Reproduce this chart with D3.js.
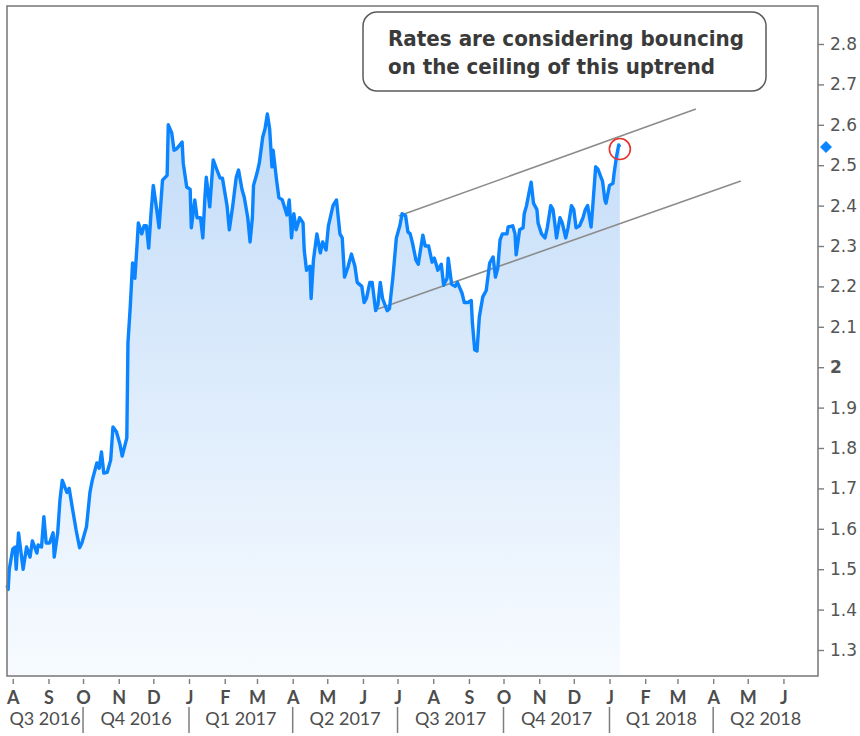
<!DOCTYPE html>
<html>
<head>
<meta charset="utf-8">
<script src="https://cdn.jsdelivr.net/npm/d3@7"></script>
<style>
  body { margin: 0; background: #fff; }
</style>
</head>
<body>
<div id="chart"></div>
<script>
// 10y yield
var dates = ["2016-07-27","2016-07-28","2016-07-29","2016-08-01","2016-08-03","2016-08-04","2016-08-06","2016-08-10","2016-08-13","2016-08-16",
  "2016-08-18","2016-08-22","2016-08-23","2016-08-26","2016-08-28","2016-08-30","2016-09-02","2016-09-05","2016-09-06","2016-09-09",
  "2016-09-11","2016-09-13","2016-09-17","2016-09-19","2016-09-22","2016-09-25","2016-09-28","2016-09-30","2016-10-04","2016-10-07",
  "2016-10-09","2016-10-13","2016-10-15","2016-10-17","2016-10-19","2016-10-22","2016-10-25","2016-10-27","2016-10-30","2016-11-02",
  "2016-11-04","2016-11-08","2016-11-09","2016-11-11","2016-11-13","2016-11-15","2016-11-17","2016-11-18","2016-11-21","2016-11-23",
  "2016-11-25","2016-11-27","2016-11-29","2016-12-01","2016-12-04","2016-12-06","2016-12-09","2016-12-13","2016-12-14","2016-12-17",
  "2016-12-19","2016-12-21","2016-12-26","2016-12-27","2016-12-30","2017-01-02","2017-01-03","2017-01-06","2017-01-08","2017-01-11",
  "2017-01-13","2017-01-15","2017-01-16","2017-01-19","2017-01-22","2017-01-25","2017-01-28","2017-01-30","2017-02-03","2017-02-05",
  "2017-02-08","2017-02-11","2017-02-13","2017-02-16","2017-02-18","2017-02-21","2017-02-23","2017-02-25","2017-02-26","2017-03-01",
  "2017-03-03","2017-03-06","2017-03-08","2017-03-10","2017-03-12","2017-03-14","2017-03-15","2017-03-18","2017-03-20","2017-03-23",
  "2017-03-27","2017-03-29","2017-03-31","2017-04-02","2017-04-04","2017-04-07","2017-04-10","2017-04-11","2017-04-13","2017-04-16",
  "2017-04-17","2017-04-19","2017-04-22","2017-04-25","2017-04-27","2017-04-30","2017-05-02","2017-05-06","2017-05-09","2017-05-12",
  "2017-05-14","2017-05-16","2017-05-19","2017-05-22","2017-05-25","2017-05-27","2017-05-31","2017-06-02","2017-06-04","2017-06-07",
  "2017-06-09","2017-06-12","2017-06-14","2017-06-16","2017-06-18","2017-06-22","2017-06-24","2017-06-27","2017-06-30","2017-07-03",
  "2017-07-05","2017-07-08","2017-07-10","2017-07-12","2017-07-14","2017-07-17","2017-07-19","2017-07-23","2017-07-25","2017-07-28",
  "2017-07-31","2017-08-02","2017-08-05","2017-08-08","2017-08-10","2017-08-13","2017-08-14","2017-08-17","2017-08-20","2017-08-22",
  "2017-08-26","2017-08-28","2017-08-31","2017-09-03","2017-09-04","2017-09-06","2017-09-08","2017-09-10","2017-09-13","2017-09-16",
  "2017-09-19","2017-09-22","2017-09-24","2017-09-26","2017-09-28","2017-09-30","2017-10-04","2017-10-05","2017-10-09","2017-10-11",
  "2017-10-12","2017-10-15","2017-10-18","2017-10-19","2017-10-21","2017-10-23","2017-10-25","2017-10-27","2017-10-30","2017-10-31",
  "2017-11-03","2017-11-06","2017-11-08","2017-11-11","2017-11-13","2017-11-15","2017-11-16","2017-11-19","2017-11-21","2017-11-24",
  "2017-11-26","2017-11-29","2017-12-01","2017-12-03","2017-12-06","2017-12-09","2017-12-11","2017-12-13","2017-12-16","2017-12-17",
  "2017-12-20","2017-12-22","2017-12-24","2017-12-26","2017-12-28","2017-12-29","2018-01-01","2018-01-04","2018-01-05","2018-01-07",
  "2018-01-09","2018-01-10"];
var yields = [1.46,1.45,1.50,1.55,1.555,1.50,1.59,1.50,1.555,1.53,
  1.57,1.54,1.56,1.555,1.63,1.565,1.565,1.59,1.53,1.59,
  1.672,1.72,1.69,1.70,1.647,1.597,1.553,1.565,1.605,1.69,
  1.72,1.763,1.75,1.79,1.738,1.74,1.77,1.852,1.84,1.81,
  1.78,1.825,2.06,2.15,2.258,2.22,2.307,2.357,2.33,2.35,
  2.35,2.295,2.38,2.45,2.39,2.345,2.463,2.475,2.60,2.58,
  2.537,2.54,2.557,2.505,2.446,2.44,2.345,2.414,2.37,2.37,
  2.32,2.43,2.47,2.397,2.513,2.49,2.468,2.468,2.40,2.34,
  2.40,2.47,2.488,2.44,2.42,2.37,2.31,2.37,2.45,2.48,
  2.505,2.57,2.59,2.627,2.59,2.496,2.537,2.463,2.42,2.414,
  2.377,2.414,2.32,2.38,2.34,2.37,2.357,2.29,2.24,2.25,
  2.17,2.265,2.33,2.283,2.31,2.29,2.35,2.40,2.414,2.33,
  2.32,2.223,2.248,2.28,2.25,2.21,2.20,2.16,2.17,2.21,
  2.21,2.14,2.155,2.21,2.17,2.14,2.145,2.223,2.32,2.35,
  2.38,2.375,2.335,2.33,2.307,2.265,2.255,2.327,2.30,2.30,
  2.26,2.27,2.24,2.255,2.203,2.22,2.27,2.205,2.20,2.21,
  2.183,2.16,2.16,2.165,2.11,2.043,2.04,2.124,2.174,2.19,
  2.258,2.273,2.223,2.245,2.315,2.33,2.33,2.347,2.35,2.33,
  2.278,2.34,2.345,2.38,2.40,2.43,2.458,2.406,2.39,2.357,
  2.33,2.32,2.345,2.40,2.39,2.345,2.32,2.37,2.357,2.32,
  2.345,2.40,2.39,2.345,2.35,2.37,2.39,2.40,2.347,2.38,
  2.496,2.49,2.475,2.46,2.414,2.406,2.45,2.455,2.48,2.52,
  2.55,2.545];

var yTicks = [1.3,1.4,1.5,1.6,1.7,1.8,1.9,2,2.1,2.2,2.3,2.4,2.5,2.6,2.7,2.8];
var monthTicks = ["2016-08-01","2016-09-01","2016-10-01","2016-11-01","2016-12-01","2017-01-01","2017-02-01","2017-03-01",
  "2017-04-01","2017-05-01","2017-06-01","2017-07-01","2017-08-01","2017-09-01","2017-10-01","2017-11-01","2017-12-01",
  "2018-01-01","2018-02-01","2018-03-01","2018-04-01","2018-05-01","2018-06-01"];
var monthLabels = ["A","S","O","N","D","J","F","M","A","M","J","J","A","S","O","N","D","J","F","M","A","M","J"];
var quarterStarts = ["2016-07-01","2016-10-01","2017-01-01","2017-04-01","2017-07-01","2017-10-01","2018-01-01","2018-04-01","2018-07-01"];
var quarterLabels = ["Q3 2016","Q4 2016","Q1 2017","Q2 2017","Q3 2017","Q4 2017","Q1 2018","Q2 2018"];

// trend channel drawn on the chart
var upperChannel = [["2017-07-02",2.374],["2018-03-17",2.639]];
var lowerChannel = [["2017-06-14",2.144],["2018-04-25",2.461]];
var noteLines = ["Rates are considering bouncing","on the ceiling of this uptrend"];

var parse = d3.timeParse("%Y-%m-%d");
var W = 860, H = 736;
var plot = {l: 7, r: 818, t: 6, b: 676};

var svg = d3.select("#chart").append("svg")
    .attr("width", W)
    .attr("height", H)
    .style("font-family", "'DejaVu Sans', sans-serif");

var x = d3.scaleTime()
    .domain([new Date(2016, 6, 27), new Date(2018, 6, 1)])
    .range([plot.l, plot.r]);
var y = d3.scaleLinear().domain([1.3, 2.8]).range([650, 44]);

var series = dates.map(function(d, i){ return {date: parse(d), v: yields[i]}; });

// gradient under the line
var grad = svg.append("defs").append("linearGradient")
    .attr("id", "fillGrad")
    .attr("gradientUnits", "userSpaceOnUse")
    .attr("x1", 0).attr("x2", 0)
    .attr("y1", y(2.65)).attr("y2", plot.b);
grad.append("stop").attr("offset", 0).attr("stop-color", "#c3dcf8");
grad.append("stop").attr("offset", 1).attr("stop-color", "#f7fbff");

var area = d3.area()
    .x(function(d){ return x(d.date); })
    .y0(plot.b)
    .y1(function(d){ return y(d.v); });
var line = d3.line()
    .x(function(d){ return x(d.date); })
    .y(function(d){ return y(d.v); });

svg.append("path").datum(series)
    .attr("d", area)
    .attr("fill", "url(#fillGrad)");

// channel lines
[upperChannel, lowerChannel].forEach(function(c){
  svg.append("line")
    .attr("x1", x(parse(c[0][0]))).attr("y1", y(c[0][1]))
    .attr("x2", x(parse(c[1][0]))).attr("y2", y(c[1][1]))
    .attr("stroke", "#8c8c8c")
    .attr("stroke-width", 1.6);
});

svg.append("path").datum(series)
    .attr("d", line)
    .attr("fill", "none")
    .attr("stroke", "#0a84ff")
    .attr("stroke-width", 3.4)
    .attr("stroke-linejoin", "round");

var last = series[series.length - 1];
svg.append("circle")
    .attr("cx", x(last.date))
    .attr("cy", y(last.v) + 2)
    .attr("r", 10.5)
    .attr("fill", "none")
    .attr("stroke", "#e8322d")
    .attr("stroke-width", 1.6);

// frame
svg.append("rect")
    .attr("x", plot.l).attr("y", plot.t)
    .attr("width", plot.r - plot.l).attr("height", plot.b - plot.t)
    .attr("fill", "none")
    .attr("stroke", "#7d7d7d")
    .attr("stroke-width", 1.6);

// right axis
var yAxis = d3.axisRight(y)
    .tickValues(yTicks)
    .tickSize(6)
    .tickPadding(6)
    .tickFormat(function(d){ return d === 2 ? "2" : d3.format(".1f")(d); });
var gy = svg.append("g").attr("transform", "translate(" + plot.r + ",0)").call(yAxis);
gy.select(".domain").remove();
gy.selectAll(".tick line").attr("stroke", "#7d7d7d").attr("stroke-width", 1.4);
gy.selectAll(".tick text")
    .attr("fill", "#555")
    .style("font-size", "17px")
    .style("font-family", "'DejaVu Sans', sans-serif")
    .style("font-weight", function(d){ return d === 2 ? "bold" : "normal"; });

// last value marker on the axis (square turned 45deg)
svg.append("path")
    .attr("d", d3.symbol().type(d3.symbolSquare).size(72))
    .attr("transform", "translate(" + (plot.r + 8) + "," + y(last.v) + ") rotate(45)")
    .attr("fill", "#0a84ff");

// month axis
var xAxis = d3.axisBottom(x)
    .tickValues(monthTicks.map(parse))
    .tickSize(5)
    .tickPadding(7)
    .tickFormat(function(d, i){ return monthLabels[i]; });
var gx = svg.append("g").attr("transform", "translate(0," + (plot.b + 3) + ")").call(xAxis);
gx.select(".domain").remove();
gx.selectAll(".tick line").attr("stroke", "#7d7d7d").attr("stroke-width", 1.4);
gx.selectAll(".tick text")
    .attr("fill", "#4d4d4d")
    .style("font-size", "18px")
    .style("font-weight", "bold")
    .style("font-family", "Lato, sans-serif");

// quarter row
var qStart = quarterStarts.map(parse);
var dom = x.domain();
quarterLabels.forEach(function(q, i){
  var a = qStart[i] < dom[0] ? dom[0] : qStart[i];
  var b = qStart[i + 1] > dom[1] ? dom[1] : qStart[i + 1];
  svg.append("text")
    .attr("x", (x(a) + x(b)) / 2)
    .attr("y", 725)
    .attr("text-anchor", "middle")
    .attr("fill", "#4d4d4d")
    .style("font-size", "18px")
    .style("font-family", "Lato, sans-serif")
    .text(q);
});
qStart.forEach(function(d){
  if (d <= dom[0] || d >= dom[1]) return;
  svg.append("line")
    .attr("x1", x(d)).attr("x2", x(d))
    .attr("y1", 707).attr("y2", 733)
    .attr("stroke", "#7d7d7d")
    .attr("stroke-width", 1.5);
});

// note box
var note = svg.append("g");
note.append("rect")
    .attr("x", 363).attr("y", 12)
    .attr("width", 403).attr("height", 79)
    .attr("rx", 14)
    .attr("fill", "#fff")
    .attr("stroke", "#5a5a5a")
    .attr("stroke-width", 1.5);
var noteWidths = [356, 327];
noteLines.forEach(function(t, i){
  note.append("text")
    .attr("x", 388)
    .attr("y", 46 + i * 28)
    .attr("textLength", noteWidths[i])
    .attr("lengthAdjust", "spacingAndGlyphs")
    .attr("fill", "#3a3a3a")
    .style("font-size", "21px")
    .style("font-weight", "bold")
    .style("font-family", "'DejaVu Sans Condensed', 'DejaVu Sans', sans-serif")
    .text(t);
});
</script>
</body>
</html>
